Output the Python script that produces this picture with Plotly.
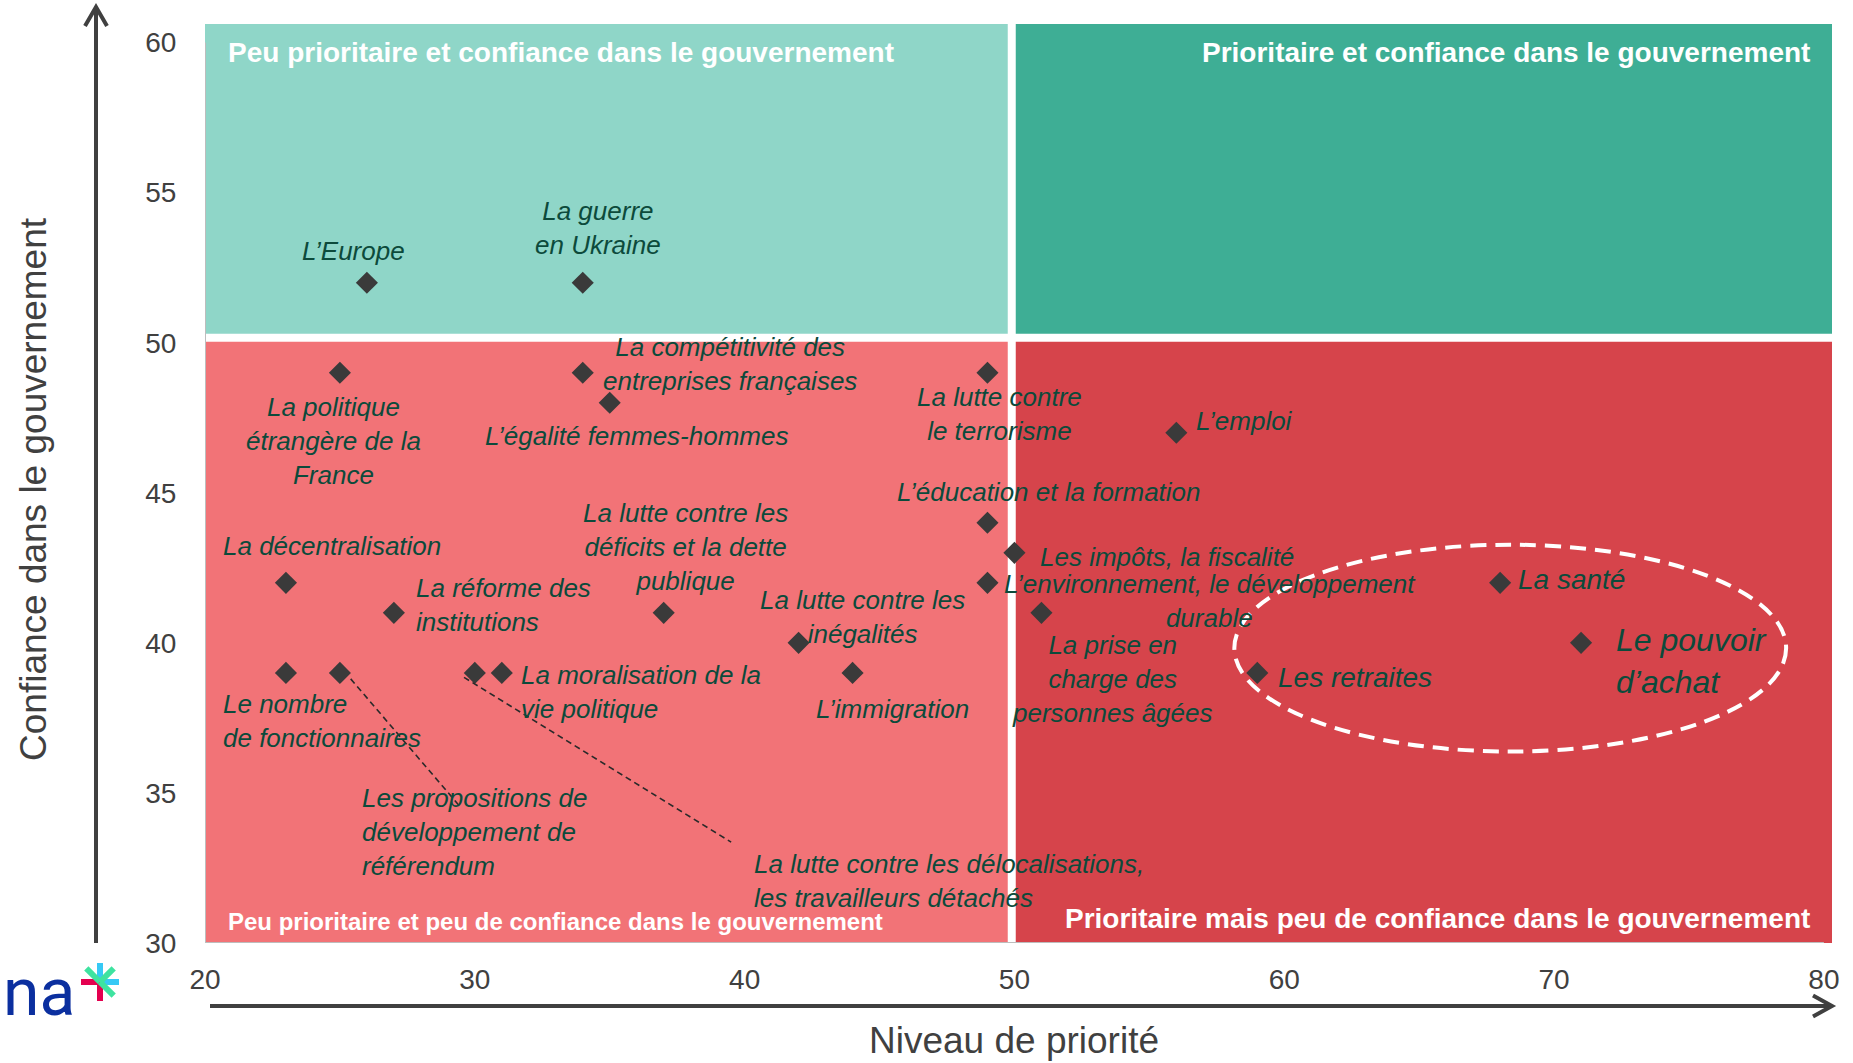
import plotly.graph_objects as go

FONT = "Liberation Sans, Arial, Helvetica, sans-serif"

# ---------------- data ----------------
topics = [
    "L’Europe", "La guerre en Ukraine", "La politique étrangère de la France",
    "La compétitivité des entreprises françaises", "L’égalité femmes-hommes",
    "La lutte contre le terrorisme", "L’emploi", "L’éducation et la formation",
    "Les impôts, la fiscalité", "L’environnement, le développement durable",
    "La prise en charge des personnes âgées", "La santé", "Le pouvoir d’achat",
    "Les retraites", "La décentralisation", "La réforme des institutions",
    "Le nombre de fonctionnaires", "Les propositions de développement de référendum",
    "La lutte contre les délocalisations, les travailleurs détachés",
    "La moralisation de la vie politique",
    "La lutte contre les déficits et la dette publique",
    "La lutte contre les inégalités", "L’immigration",
]
priorite = [26, 34, 25, 34, 35, 49, 56, 49, 50, 49, 51, 68, 71, 59, 23, 27, 23, 25, 30, 31, 37, 42, 44]
confiance = [52, 52, 49, 49, 48, 49, 47, 44, 43, 42, 41, 42, 40, 39, 42, 41, 39, 39, 39, 39, 41, 40, 39]

x_ticks = [20, 30, 40, 50, 60, 70, 80]
y_ticks = [30, 35, 40, 45, 50, 55, 60]

quadrant_titles = [
    "Peu prioritaire et confiance dans le gouvernement",
    "Prioritaire et confiance dans le gouvernement",
    "Peu prioritaire et peu de confiance dans le gouvernement",
    "Prioritaire mais peu de confiance dans le gouvernement",
]
x_title = "Niveau de priorité"
y_title = "Confiance dans le gouvernement"

# ---------------- label layout (text wrapping + placement) ----------------
label_text = [
    "L’Europe", "La guerre<br>en Ukraine", "La politique<br>étrangère de la<br>France",
    "La compétitivité des<br>entreprises françaises", "L’égalité femmes-hommes",
    "La lutte contre<br>le terrorisme", "L’emploi", "L’éducation et la formation",
    "Les impôts, la fiscalité", "L’environnement, le développement<br>durable",
    "La prise en<br>charge des<br>personnes âgées", "La santé", "Le pouvoir<br>d’achat",
    "Les retraites", "La décentralisation", "La réforme des<br>institutions",
    "Le nombre<br>de fonctionnaires", "Les propositions de<br>développement de<br>référendum",
    "La lutte contre les délocalisations,<br>les travailleurs détachés",
    "La moralisation de la<br>vie politique",
    "La lutte contre les<br>déficits et la dette<br>publique",
    "La lutte contre les<br>inégalités", "L’immigration",
]
label_pos = [
    (25.50, 53.07, "center", 26), (34.56, 53.82, "center", 26), (24.75, 46.73, "center", 26),
    (39.47, 49.29, "center", 26), (36.01, 46.88, "center", 26), (49.46, 47.63, "center", 26),
    (56.64, 47.40, "left", 26), (51.29, 45.03, "center", 26), (50.86, 42.87, "left", 26),
    (57.23, 41.39, "center", 26), (53.62, 38.81, "center", 26), (68.60, 42.12, "left", 28),
    (72.23, 39.40, "left", 32), (59.70, 38.85, "left", 28), (24.71, 43.22, "center", 26),
    (27.73, 41.25, "left", 26), (20.59, 37.39, "left", 26), (25.76, 33.69, "left", 26),
    (40.26, 32.06, "left", 26), (31.63, 38.36, "left", 26), (37.80, 43.18, "center", 26),
    (44.38, 40.86, "center", 26), (45.47, 37.79, "center", 26),
]
leaders = [((25.4, 38.8), (29.4, 34.6)), ((29.6, 38.85), (39.5, 33.36))]

X_DIV, Y_DIV = 49.9, 50.17
X_MAX, Y_MAX = 80.3, 60.62

W, H = 1853, 1063
ML, MR, MT, MB = 205, 21, 24, 120
PW, PH = W - ML - MR, H - MT - MB


def px(x):
    return (x - ML) / PW


def py(y):
    return (H - MB - y) / PH


TEXT_COL = "#0c4a3b"
AX_COL = "#404040"

fig = go.Figure()
fig.add_trace(go.Scatter(
    x=priorite, y=confiance, mode="markers", text=topics, hoverinfo="text",
    marker=dict(symbol="diamond", size=17, color="#3a3a3a"), cliponaxis=False,
))

shapes = []
quads = [
    (20, X_DIV, Y_DIV, Y_MAX, "#8fd6c8"),
    (X_DIV, X_MAX, Y_DIV, Y_MAX, "#3eae95"),
    (20, X_DIV, 30, Y_DIV, "#f27377"),
    (X_DIV, X_MAX, 30, Y_DIV, "#d6444b"),
]
for x0, x1, y0, y1, c in quads:
    shapes.append(dict(type="rect", xref="x", yref="y", x0=x0, x1=x1, y0=y0, y1=y1,
                       fillcolor=c, line=dict(width=0), layer="below"))
shapes.append(dict(type="line", xref="x", yref="y", x0=X_DIV, x1=X_DIV, y0=30, y1=Y_MAX,
                   line=dict(color="white", width=8), layer="below"))
shapes.append(dict(type="line", xref="x", yref="y", x0=20, x1=X_MAX, y0=Y_DIV, y1=Y_DIV,
                   line=dict(color="white", width=8), layer="below"))
# light axis lines
shapes.append(dict(type="line", xref="x", yref="y", x0=20, x1=20, y0=30, y1=60,
                   line=dict(color="#bdbdbd", width=2), layer="below"))
shapes.append(dict(type="line", xref="x", yref="y", x0=20, x1=80, y0=30, y1=30,
                   line=dict(color="#bdbdbd", width=2), layer="below"))
# dashed ellipse
shapes.append(dict(type="circle", xref="x", yref="y", x0=58.15, x1=78.6, y0=36.38, y1=43.27,
                   line=dict(color="white", width=4, dash="16px,9px"), layer="above"))
# leader lines
for (a, b) in leaders:
    shapes.append(dict(type="line", xref="x", yref="y", x0=a[0], y0=a[1], x1=b[0], y1=b[1],
                       line=dict(color="#2a2a2a", width=1.6, dash="6px,4px"), layer="above"))
# axis arrows
shapes.append(dict(type="line", xref="paper", yref="paper", x0=px(96), x1=px(96), y0=py(943), y1=py(8),
                   line=dict(color=AX_COL, width=4)))
shapes.append(dict(type="path", xref="paper", yref="paper",
                   path=f"M {px(85)},{py(26)} L {px(96)},{py(7)} L {px(107)},{py(26)}",
                   line=dict(color=AX_COL, width=4)))
shapes.append(dict(type="line", xref="paper", yref="paper", x0=px(210), x1=px(1831), y0=py(1006), y1=py(1006),
                   line=dict(color=AX_COL, width=4)))
shapes.append(dict(type="path", xref="paper", yref="paper",
                   path=f"M {px(1813)},{py(995.5)} L {px(1832)},{py(1006)} L {px(1813)},{py(1016.5)}",
                   line=dict(color=AX_COL, width=4)))
# logo asterisk
cx, cy, L = 100, 982, 19
arms = [((0, -1), "#36c9f5"), ((1, 0), "#36c9f5"), ((0, 1), "#e4004f"), ((-1, 0), "#e4004f"),
        ((-0.72, -0.72), "#3ee3a0"), ((0.72, 0.72), "#3ee3a0"), ((0.72, -0.72), "#3ee3a0")]
for (dx, dy), c in arms:
    shapes.append(dict(type="line", xref="paper", yref="paper", x0=px(cx), y0=py(cy),
                       x1=px(cx + dx * L), y1=py(cy + dy * L), line=dict(color=c, width=6)))

annotations = []
for t, (x, y, anc, s) in zip(label_text, label_pos):
    annotations.append(dict(x=x, y=y, xref="x", yref="y", text=f"<i>{t}</i>", showarrow=False,
                            xanchor=anc, yanchor="middle", align=anc,
                            font=dict(family=FONT, size=s, color=TEXT_COL)))
hdr = [
    (quadrant_titles[0], 20.77, 59.68, "left", 28),
    (quadrant_titles[1], 79.55, 59.68, "right", 28),
    (quadrant_titles[2], 20.77, 30.73, "left", 24),
    (quadrant_titles[3], 79.55, 30.81, "right", 28),
]
for t, x, y, anc, s in hdr:
    annotations.append(dict(x=x, y=y, xref="x", yref="y", text=f"<b>{t}</b>", showarrow=False,
                            xanchor=anc, yanchor="middle",
                            font=dict(family=FONT, size=s, color="white")))
annotations.append(dict(x=px(33), y=py(489), xref="paper", yref="paper", text=y_title, textangle=-90,
                        showarrow=False, xanchor="center", yanchor="middle",
                        font=dict(family=FONT, size=37, color=AX_COL)))
annotations.append(dict(x=px(1014), y=py(1040), xref="paper", yref="paper", text=x_title,
                        showarrow=False, xanchor="center", yanchor="middle",
                        font=dict(family=FONT, size=37, color=AX_COL)))
annotations.append(dict(x=px(1), y=py(992), xref="paper", yref="paper", text="na",
                        showarrow=False, xanchor="left", yanchor="middle",
                        font=dict(family="Roboto, Lato, sans-serif", size=66, color="#0b2f9f")))

fig.update_layout(
    width=W, height=H,
    margin=dict(l=ML, r=MR, t=MT, b=MB, pad=0),
    plot_bgcolor="white", paper_bgcolor="white",
    showlegend=False,
    shapes=shapes, annotations=annotations,
    xaxis=dict(range=[20, X_MAX], tickvals=x_ticks, ticktext=[str(v) for v in x_ticks],
               showgrid=False, zeroline=False, showline=False,
               ticks="outside", ticklen=11, tickcolor="rgba(0,0,0,0)",
               tickfont=dict(family=FONT, size=28, color=AX_COL)),
    yaxis=dict(range=[30, Y_MAX], tickvals=y_ticks, ticktext=[str(v) for v in y_ticks],
               showgrid=False, zeroline=False, showline=False,
               ticks="outside", ticklen=22, tickcolor="rgba(0,0,0,0)",
               tickfont=dict(family=FONT, size=28, color=AX_COL)),
)

fig.write_html("out.html", config={"displayModeBar": False},
               post_script="document.body.style.margin='0';document.body.style.overflow='hidden';")
